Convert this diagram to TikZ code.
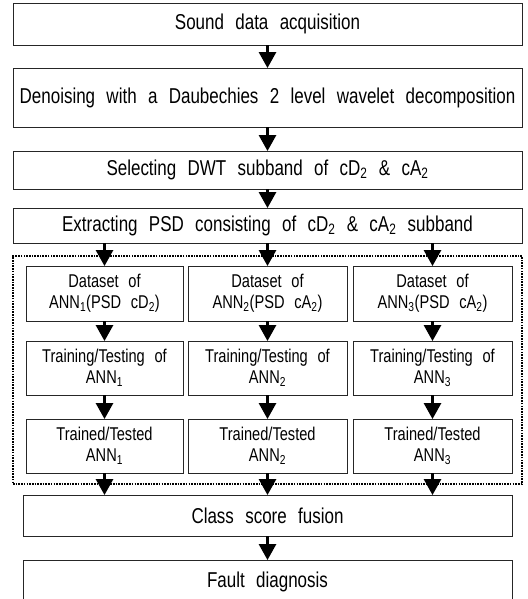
\documentclass[tikz,border=0pt]{standalone}
\usepackage{fontspec}
\setmainfont[FakeStretch=0.79,WordSpace=2.4]{Liberation Sans}
\usetikzlibrary{arrows.meta}
\begin{document}
\begin{tikzpicture}[x=1pt,y=-1pt,
  bigbox/.style={draw=black!85,line width=0.9pt,inner sep=0pt,align=center,font=\fontsize{21.5}{25}\selectfont},
  smallbox/.style={draw=black!85,line width=0.9pt,inner sep=0pt,align=center,font=\fontsize{18.5}{21}\selectfont},
  flow/.style={line width=2.8pt,-{Triangle[length=16pt,width=17pt]},shorten >=-0.5pt},
  group/.style={draw=black,line width=1.6pt,dash pattern=on 1.6pt off 1.1pt}]
\useasboundingbox (0,0) rectangle (527,599);
\clip (0,0) rectangle (527,599);
% main boxes
\node[bigbox,minimum width=509pt,minimum height=42pt] (b1) at (267.5,24) {Sound data acquisition};
\node[bigbox,minimum width=509pt,minimum height=59pt] (b2) at (267.5,97.5) {Denoising with a Daubechies 2 level wavelet decomposition};
\node[bigbox,minimum width=509pt,minimum height=38pt] (b3) at (267.5,170) {Selecting DWT subband of cD\textsubscript{2} \& cA\textsubscript{2}};
\node[bigbox,minimum width=509pt,minimum height=35pt] (b4) at (267.5,225.5) {Extracting PSD consisting of cD\textsubscript{2} \& cA\textsubscript{2} subband};
% dotted group
\node[group,inner sep=0pt,minimum width=509pt,minimum height=228pt] (grp) at (267.5,370) {};
% rows
\node[smallbox,minimum width=157pt,minimum height=55pt] (d1) at (104.5,293.5) {Dataset of\\ANN\textsubscript{1}(PSD cD\textsubscript{2})};
\node[smallbox,minimum width=159pt,minimum height=55pt] (d2) at (267.5,293.5) {Dataset of\\ANN\textsubscript{2}(PSD cA\textsubscript{2})};
\node[smallbox,minimum width=159pt,minimum height=55pt] (d3) at (432.5,293.5) {Dataset of\\ANN\textsubscript{3}(PSD cA\textsubscript{2})};
\node[smallbox,minimum width=157pt,minimum height=54pt] (t1) at (104.5,368) {Training/Testing of\\ANN\textsubscript{1}};
\node[smallbox,minimum width=159pt,minimum height=54pt] (t2) at (267.5,368) {Training/Testing of\\ANN\textsubscript{2}};
\node[smallbox,minimum width=159pt,minimum height=54pt] (t3) at (432.5,368) {Training/Testing of\\ANN\textsubscript{3}};
\node[smallbox,minimum width=157pt,minimum height=54pt] (r1) at (104.5,446) {Trained/Tested\\ANN\textsubscript{1}};
\node[smallbox,minimum width=159pt,minimum height=54pt] (r2) at (267.5,446) {Trained/Tested\\ANN\textsubscript{2}};
\node[smallbox,minimum width=159pt,minimum height=54pt] (r3) at (432.5,446) {Trained/Tested\\ANN\textsubscript{3}};
% bottom boxes
\node[bigbox,minimum width=489pt,minimum height=41pt] (cs) at (267.5,515.5) {Class score fusion};
\node[bigbox,minimum width=489pt,minimum height=50pt] (fd) at (267.5,585) {};
\node[font=\fontsize{21.5}{25}\selectfont,inner sep=0pt] (fdt) at (267.5,582) {Fault diagnosis};
% arrows
\draw[flow] (b1.south) -- (b2.north);
\draw[flow] (b2.south) -- (b3.north);
\draw[flow] (b3.south) -- (b4.north);
\foreach \c in {1,2,3}{
  \draw[flow] (b4.south -| d\c.north) -- (d\c.north);
  \draw[flow] (d\c.south) -- (t\c.north);
  \draw[flow] (t\c.south) -- (r\c.north);
  \draw[flow] (r\c.south) -- (cs.north -| r\c.south);
}
\draw[flow] (cs.south) -- (fd.north);
\end{tikzpicture}
\end{document}
